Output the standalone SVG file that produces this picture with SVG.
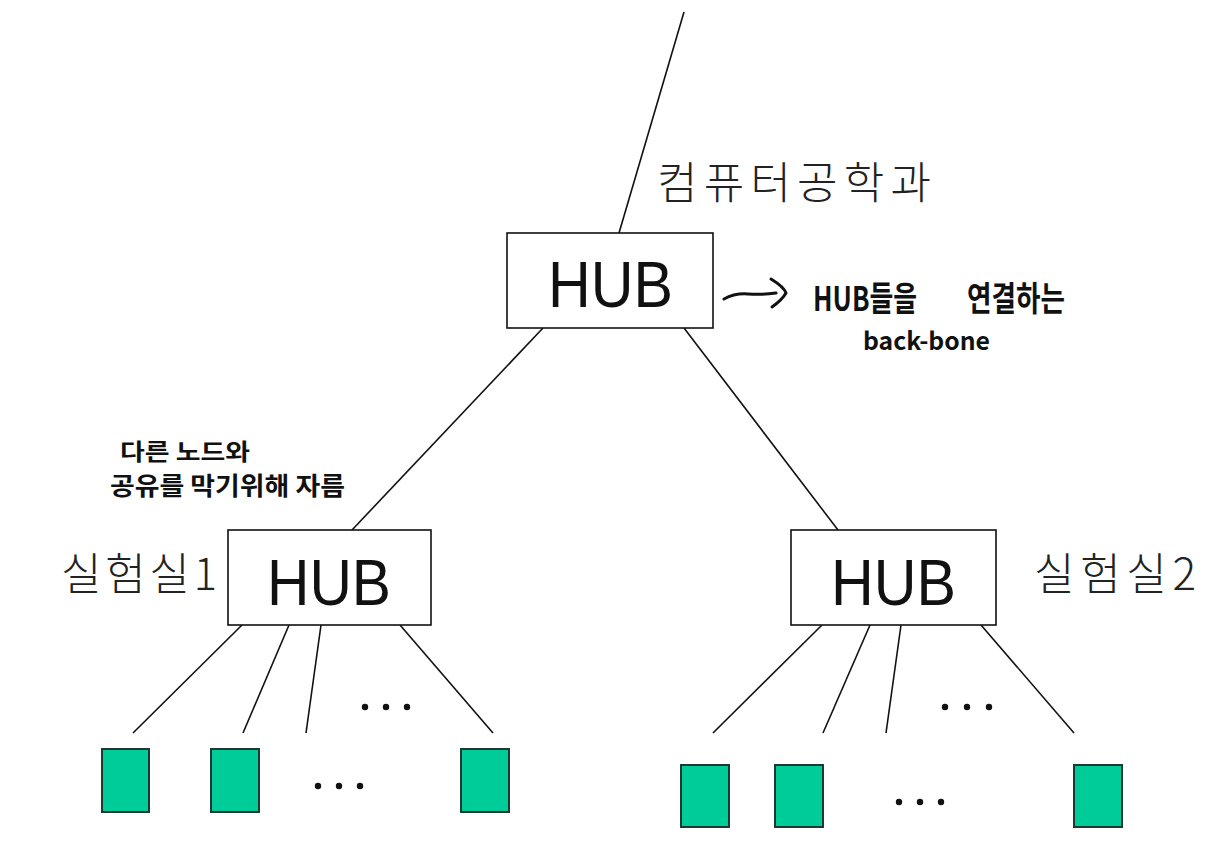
<svg xmlns="http://www.w3.org/2000/svg" width="1230" height="844" viewBox="0 0 1230 844">
<style>
.hub{fill:#fff;stroke:#111;stroke-width:1.6}
.hubt{font-family:"Liberation Sans","Noto Sans",sans-serif;font-size:64px;fill:#111}
.lbl{font-family:"Noto Sans CJK KR",sans-serif;font-size:44px;fill:#222;font-weight:300}
.hand{font-family:"Noto Sans CJK KR",sans-serif;font-weight:bold;fill:#111}
.pc{fill:#00CC99;stroke:#1d3a32;stroke-width:2}
.ln{stroke:#111;stroke-width:1.6;fill:none}
.dot{fill:#111}
</style>
<rect width="1230" height="844" fill="#fff"/>
<g id="connectors">
<line class="ln" x1="684" y1="12" x2="619" y2="233"/>
<line class="ln" x1="543" y1="328" x2="352" y2="530"/>
<line class="ln" x1="684" y1="328" x2="838" y2="530"/>
<line class="ln" x1="242" y1="625" x2="133" y2="733"/>
<line class="ln" x1="289" y1="625" x2="243" y2="733"/>
<line class="ln" x1="321" y1="625" x2="306" y2="733"/>
<line class="ln" x1="400" y1="625" x2="493" y2="733"/>
<line class="ln" x1="822" y1="625" x2="713" y2="733"/>
<line class="ln" x1="870" y1="625" x2="823" y2="733"/>
<line class="ln" x1="901" y1="625" x2="886" y2="733"/>
<line class="ln" x1="981" y1="625" x2="1074" y2="733"/>
<path d="M724 299 Q735 293 748 294 Q762 295 776 293" stroke="#111" stroke-width="3" fill="none" stroke-linecap="round"/>
<path d="M771 279 Q784 287 786 293 Q782 300 772 307" stroke="#111" stroke-width="3" fill="none" stroke-linecap="round" stroke-linejoin="round"/>
</g>
<g id="hub-top">
<rect class="hub" x="507" y="233" width="206" height="95"/>
<text class="hubt" x="548" y="307" textLength="125" lengthAdjust="spacingAndGlyphs">HUB</text>
</g>
<g id="label-top">
<text class="lbl" x="657" y="199" textLength="274" lengthAdjust="spacing">컴퓨터공학과</text>
</g>
<g id="note-backbone">
<text class="hand" x="813" y="311" font-size="34" textLength="104" lengthAdjust="spacingAndGlyphs">HUB들을</text>
<text class="hand" x="967" y="311" font-size="34" textLength="98" lengthAdjust="spacingAndGlyphs">연결하는</text>
<text class="hand" x="863" y="350" font-size="25" textLength="127" lengthAdjust="spacingAndGlyphs">back-bone</text>
</g>
<g id="note-cut">
<text class="hand" x="120" y="460" font-size="23" textLength="130" lengthAdjust="spacingAndGlyphs">다른 노드와</text>
<text class="hand" x="110" y="495" font-size="25" textLength="235" lengthAdjust="spacingAndGlyphs">공유를 막기위해 자름</text>
</g>
<g id="hub-lab1">
<rect class="hub" x="228" y="530" width="203" height="95"/>
<text class="hubt" x="267" y="605" textLength="124" lengthAdjust="spacingAndGlyphs">HUB</text>
</g>
<g id="label-lab1">
<text class="lbl" x="61" y="590" textLength="156" lengthAdjust="spacing">실험실1</text>
</g>
<g id="hub-lab2">
<rect class="hub" x="791" y="530" width="205" height="95"/>
<text class="hubt" x="831" y="605" textLength="125" lengthAdjust="spacingAndGlyphs">HUB</text>
</g>
<g id="label-lab2">
<text class="lbl" x="1034" y="590" textLength="162" lengthAdjust="spacing">실험실2</text>
</g>
<g id="pcs-lab1">
<rect class="pc" x="102" y="749" width="47" height="63"/>
<rect class="pc" x="211" y="749" width="48" height="63"/>
<rect class="pc" x="461" y="749" width="48" height="63"/>
<circle class="dot" cx="365" cy="707" r="3.2"/><circle class="dot" cx="386" cy="707" r="3.2"/><circle class="dot" cx="407" cy="707" r="3.2"/>
<circle class="dot" cx="318" cy="786" r="3.2"/><circle class="dot" cx="339" cy="786" r="3.2"/><circle class="dot" cx="360" cy="786" r="3.2"/>
</g>
<g id="pcs-lab2">
<rect class="pc" x="681" y="765" width="48" height="62"/>
<rect class="pc" x="775" y="765" width="48" height="62"/>
<rect class="pc" x="1074" y="765" width="48" height="62"/>
<circle class="dot" cx="945" cy="707" r="3.2"/><circle class="dot" cx="967" cy="707" r="3.2"/><circle class="dot" cx="989" cy="707" r="3.2"/>
<circle class="dot" cx="899" cy="802" r="3.2"/><circle class="dot" cx="920" cy="802" r="3.2"/><circle class="dot" cx="941" cy="802" r="3.2"/>
</g>
</svg>
